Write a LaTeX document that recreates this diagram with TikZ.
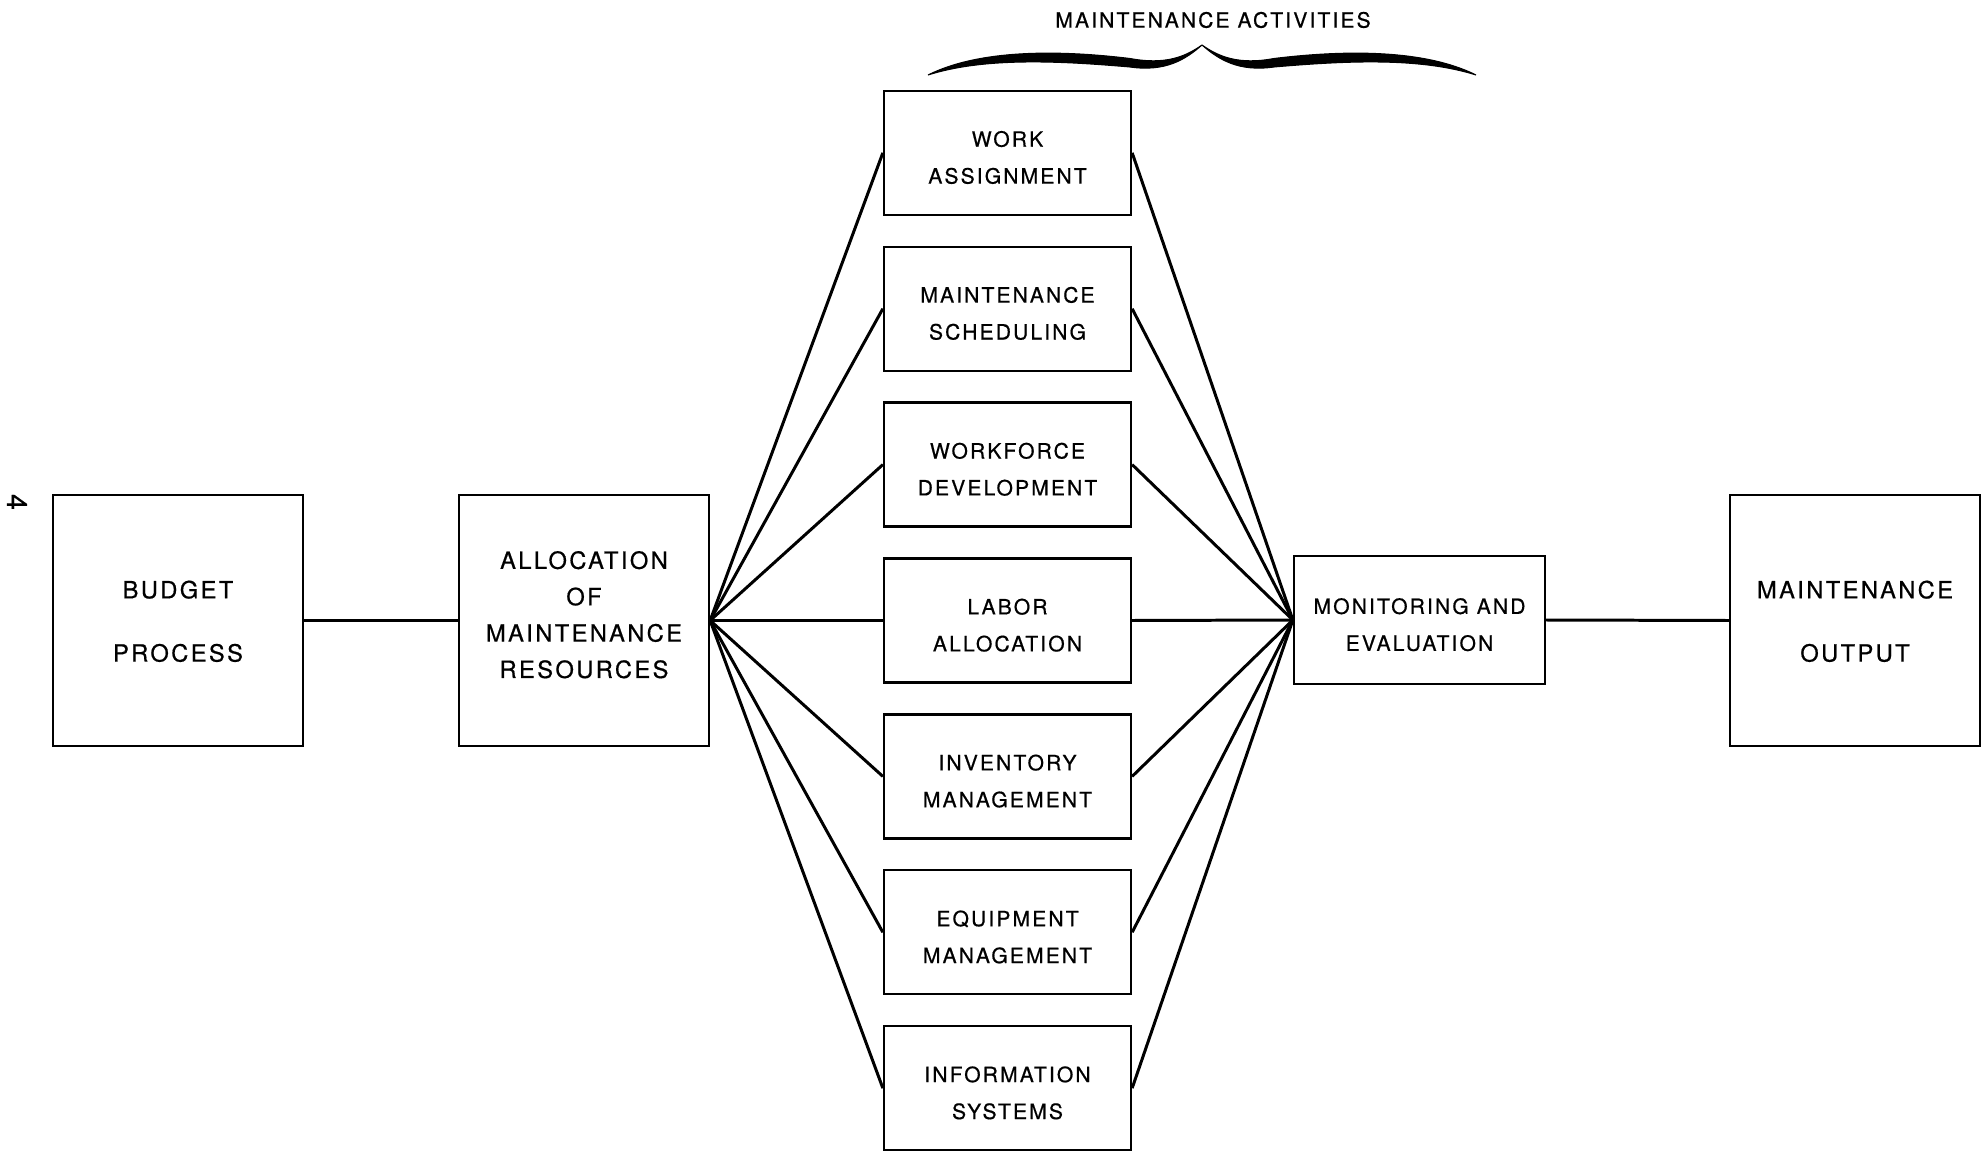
\documentclass[tikz,border=0pt]{standalone}
\usepackage{fontspec}
\setmainfont{TeX Gyre Heros}[LetterSpace=10, FakeBold=0.6]
\newcommand\lowr{\rule{0pt}{14.3pt}}
\newcommand\upr{\rule[-6.8pt]{0pt}{0pt}}
\begin{document}
\begin{tikzpicture}[
  box/.style={draw, line width=1.3pt, align=center, inner sep=0pt},
  bigbox/.style={box, minimum width=5cm, minimum height=5.02cm, font=\fontsize{13.5}{36}\selectfont},
  actbox/.style={box, minimum width=4.94cm, minimum height=2.48cm, font=\fontsize{12}{21}\selectfont},
  link/.style={line width=1.7pt}
]
\useasboundingbox (0,0) rectangle (39.72,-23.1);
% page number
\node[rotate=-90, font=\fontsize{16}{18}\selectfont] (pagenum) at (0.34,-10.04) {4};
% outer chain
\node[bigbox] (budget) at (3.56,-12.41) {\rule{0pt}{11pt}BUDGET\\PROCESS};
\node[bigbox, font=\fontsize{13.5}{20.7}\selectfont] (alloc) at (11.68,-12.41) {ALLOCATION\\OF\\MAINTENANCE\\RESOURCES\upr};
\node[actbox, minimum width=5.02cm, minimum height=2.56cm] (mon) at (28.39,-12.40) {\lowr MONITORING AND\\EVALUATION};
\node[bigbox] (output) at (37.10,-12.41) {\rule{0pt}{11pt}MAINTENANCE\\OUTPUT};
% maintenance activities
\foreach \i/\txt in {1/{WORK\\ASSIGNMENT}, 2/{MAINTENANCE\\SCHEDULING}, 3/{WORKFORCE\\DEVELOPMENT}, 4/{LABOR\\ALLOCATION}, 5/{INVENTORY\\MANAGEMENT}, 6/{EQUIPMENT\\MANAGEMENT}, 7/{INFORMATION\\SYSTEMS}}
  \node[actbox] (act\i) at (20.15,{-12.41+(4-\i)*3.118}) {\lowr\txt};
\draw[link] (budget.east) -- (alloc.west);
\draw[link] (mon.east) -- (output.west);
\foreach \i in {1,...,7} {
  \draw[link] (alloc.east) -- (act\i.west);
  \draw[link] (act\i.east) -- (mon.west);
}
% brace over the activities
\node[font=\fontsize{12}{14}\selectfont] (acts) at (24.26,-0.40) {MAINTENANCE ACTIVITIES};
\coordinate (tip) at (24.04,-0.90);
\foreach \s in {1,-1}
  \filldraw[line width=0.6pt, shift={(tip)}, xscale=\s]
    (-5.48,-0.60) .. controls (-4.44,-0.08) and (-2.84,-0.10) .. (-1.44,-0.27)
    .. controls (-0.74,-0.40) and (-0.34,-0.24) .. (0,0)
    .. controls (-0.34,-0.30) and (-0.74,-0.54) .. (-1.44,-0.44)
    .. controls (-2.84,-0.32) and (-4.34,-0.24) .. (-5.48,-0.60) -- cycle;
\end{tikzpicture}
\end{document}
